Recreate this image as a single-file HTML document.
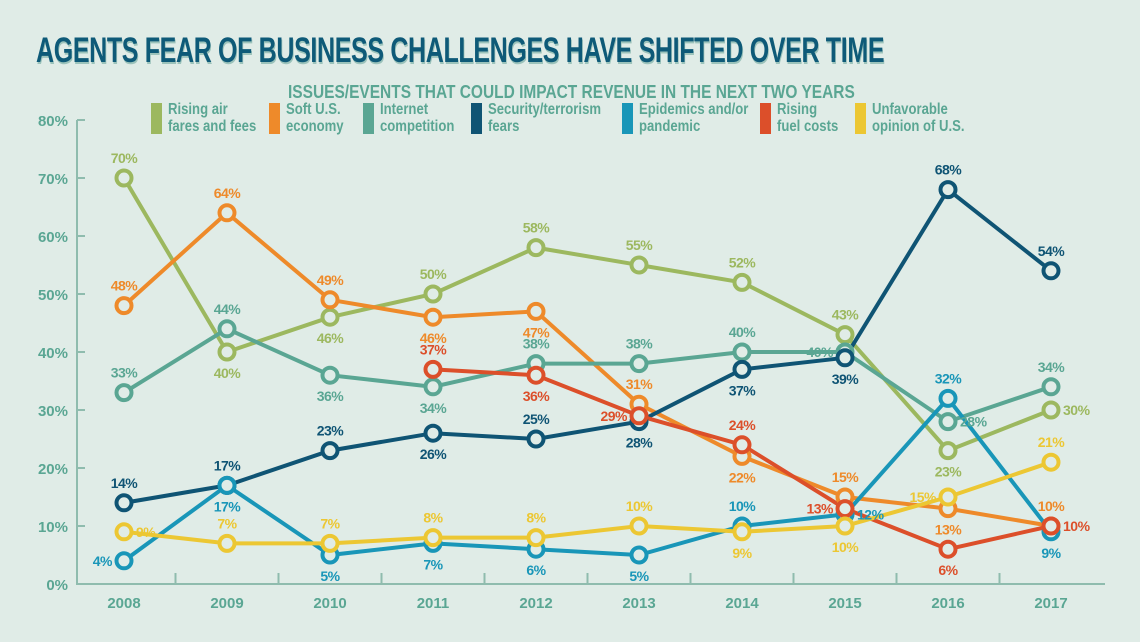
<!DOCTYPE html>
<html><head><meta charset="utf-8"><style>
html,body{margin:0;padding:0;background:#e0ece7;}
body{width:1140px;height:642px;overflow:hidden;position:relative;font-family:"Liberation Sans Narrow","Liberation Sans",sans-serif;font-weight:bold;}
#title{position:absolute;left:36px;top:31px;font-size:35px;line-height:40px;color:#0e5a78;letter-spacing:-0.5px;text-shadow:1px 2px 0 #9cc3bb;transform:scaleX(0.715);transform-origin:left;white-space:nowrap;}
#sub{position:absolute;left:288px;top:82px;font-size:18px;color:#5aa693;white-space:nowrap;transform:scaleX(0.86);transform-origin:left;}
.leg{position:absolute;top:103px;height:32px;}
.sw{position:absolute;left:0;top:0;width:11px;height:31px;}
.lt{position:absolute;left:17px;top:-1px;font-size:16px;line-height:16.5px;color:#5aa693;white-space:nowrap;transform:scaleX(0.82);transform-origin:left;}
svg{position:absolute;left:0;top:0;}
svg text{font-family:"Liberation Sans",sans-serif;font-weight:bold;}
</style></head><body>
<div id="title">AGENTS FEAR OF BUSINESS CHALLENGES HAVE SHIFTED OVER TIME</div>
<div id="sub">ISSUES/EVENTS THAT COULD IMPACT REVENUE IN THE NEXT TWO YEARS</div>
<div class="leg" style="left:151px"><div class="sw" style="background:#9cb85f"></div><div class="lt">Rising air<br>fares and fees</div></div>
<div class="leg" style="left:269px"><div class="sw" style="background:#ee8a2a"></div><div class="lt">Soft U.S.<br>economy</div></div>
<div class="leg" style="left:363px"><div class="sw" style="background:#5aa693"></div><div class="lt">Internet<br>competition</div></div>
<div class="leg" style="left:471px"><div class="sw" style="background:#0f5474"></div><div class="lt">Security/terrorism<br>fears</div></div>
<div class="leg" style="left:622px"><div class="sw" style="background:#1996b8"></div><div class="lt">Epidemics and/or<br>pandemic</div></div>
<div class="leg" style="left:760px"><div class="sw" style="background:#dc4f2a"></div><div class="lt">Rising<br>fuel costs</div></div>
<div class="leg" style="left:855px"><div class="sw" style="background:#ecc733"></div><div class="lt">Unfavorable<br>opinion of U.S.</div></div>
<svg id="chart" width="1140" height="642"></svg>
<script>
const years=["2008","2009","2010","2011","2012","2013","2014","2015","2016","2017"];
const yTicks=[0,10,20,30,40,50,60,70,80];
const airFares=[70,40,46,50,58,55,52,43,23,30];
const softEconomy=[48,64,49,46,47,31,22,15,13,10];
const internet=[33,44,36,34,38,38,40,40,28,34];
const security=[14,17,23,26,25,28,37,39,68,54];
const epidemics=[4,17,5,7,6,5,10,12,32,9];
const fuel=[null,null,null,37,36,29,24,13,6,10];
const opinion=[9,7,7,8,8,10,9,10,15,21];
const series=[
 {name:"air-fares",c:"#9cb85f",v:airFares,p:"abbaaaaabr"},
 {name:"soft-economy",c:"#ee8a2a",v:softEconomy,p:"aaabbababa"},
 {name:"internet",c:"#5aa693",v:internet,p:"aabbaaalra"},
 {name:"security",c:"#0f5474",v:security,p:"aaababbbaa"},
 {name:"epidemics",c:"#1996b8",v:epidemics,p:"lbbbbbarab"},
 {name:"fuel",c:"#dc4f2a",v:fuel,p:"---ablalbr"},
 {name:"opinion",c:"#ecc733",v:opinion,p:"raaaaabbla"}
];
const NS="http://www.w3.org/2000/svg";
const svg=document.getElementById('chart');
const X0=124,XS=103,Y0=584,YS=5.8;
const xs=i=>X0+i*XS, ys=v=>Y0-v*YS;
function mk(t,a,par){const e=document.createElementNS(NS,t);for(const k in a)e.setAttribute(k,a[k]);(par||svg).appendChild(e);return e;}
const ax=mk('g',{});


mk('path',{d:`M${X0-47} ${ys(80)} h8 M${X0-47} ${ys(80)} V${Y0} H1105`,stroke:'#8fbcae','stroke-width':2,fill:'none'},ax);
yTicks.forEach(t=>{
 if(t>0&&t<80) mk('line',{x1:X0-47,x2:X0-39,y1:ys(t),y2:ys(t),stroke:'#8fbcae','stroke-width':2},ax);
 const l=mk('text',{x:68,y:ys(t)+6,'text-anchor':'end','font-size':15,fill:'#5aa693'},ax);l.textContent=t+'%';
 
 
});
years.forEach((y,i)=>{
 if(i>0) mk('line',{x1:xs(i)-XS/2,x2:xs(i)-XS/2,y1:Y0,y2:Y0-11,stroke:'#8fbcae','stroke-width':2},ax);
 const l=mk('text',{x:xs(i),y:Y0+24,'text-anchor':'middle','font-size':15,fill:'#5aa693'},ax);l.textContent=y;
 
 
});
series.forEach(s=>{
 const g=mk('g',{});
 
 
 let d='';s.v.forEach((v,i)=>{if(v==null)return;d+=(d?'L':'M')+xs(i)+' '+ys(v);});
 const ln=mk('path',{d:d,stroke:s.c,'stroke-width':4,fill:'none'},g);
 
 
});
series.forEach(s=>{
 s.v.forEach((v,i)=>{
  if(v==null)return;
  const cx=xs(i),cy=ys(v);
  const c=mk('circle',{cx:cx,cy:cy,r:7.5,fill:'#e0ece7',stroke:s.c,'stroke-width':4});
  
  
  const p=s.p[i];let tx=cx,ty=cy,an='middle';
  if(p==='a')ty=cy-15;else if(p==='b')ty=cy+26;else if(p==='l'){tx=cx-12;ty=cy+5;an='end';}else{tx=cx+12;ty=cy+5;an='start';}
  const t=mk('text',{x:tx,y:ty,'text-anchor':an,'font-size':14,fill:s.c,'letter-spacing':-0.5});t.textContent=v+'%';
  
  
 });
});
</script>
</body></html>
